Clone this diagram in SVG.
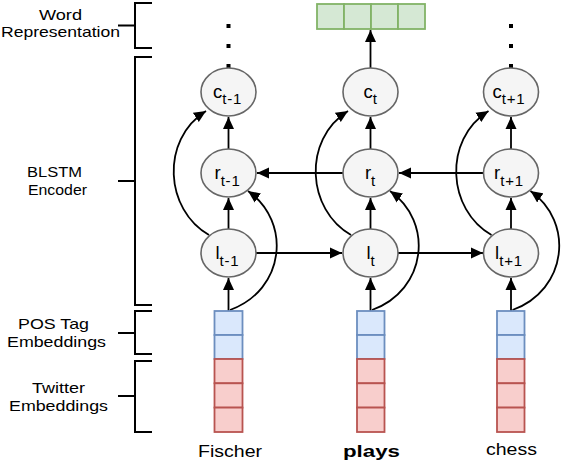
<svg xmlns="http://www.w3.org/2000/svg" width="564" height="460" viewBox="0 0 564 460">
<defs>
<marker id="ah" markerUnits="userSpaceOnUse" markerWidth="13" markerHeight="12" refX="12" refY="5.5" orient="auto" viewBox="0 0 13 11">
<path d="M0,0 L12,5.5 L0,11 z" fill="#000"/>
</marker>
<style>
.n ellipse{fill:#f5f5f5;stroke:#666;stroke-width:1.6}
.n text{font-family:"Liberation Sans",Arial,sans-serif;font-size:18.5px;fill:#000;text-anchor:middle}
.n tspan{font-size:15px;letter-spacing:0.8px}
.c path,.c line{fill:none;stroke:#000;stroke-width:1.8;marker-end:url(#ah)}
.br path{fill:none;stroke:#000;stroke-width:2}
.lab{font-family:"Liberation Sans",Arial,sans-serif;font-size:15px;fill:#000;text-anchor:middle}
.w{font-family:"Liberation Sans",Arial,sans-serif;font-size:17px;fill:#000;text-anchor:middle}
.blue{fill:#dae8fc;stroke:#6c8ebf;stroke-width:1.8}
.red{fill:#f8cecc;stroke:#b85450;stroke-width:1.8}
.green{fill:#d5e8d4;stroke:#82b366;stroke-width:1.8}
.dot{fill:#000}
</style>
</defs>
<rect width="564" height="460" fill="#fff"/>

<g id="brackets" class="br">
<path d="M152,3 H135 V48 H152 M118,25.5 H135"/>
<path d="M152,57 H135 V305 H152 M118,181 H135"/>
<path d="M152,311 H135 V354 H152 M118,333 H135"/>
<path d="M152,361 H135 V432 H152 M118,396 H135"/>
</g>
<g id="labels">
<text class="lab" x="60.5" y="20" textLength="43" lengthAdjust="spacingAndGlyphs">Word</text>
<text class="lab" x="60.5" y="37" textLength="119" lengthAdjust="spacingAndGlyphs">Representation</text>
<text class="lab" x="54.5" y="177" textLength="55" lengthAdjust="spacingAndGlyphs">BLSTM</text>
<text class="lab" x="57.5" y="194.5" textLength="59" lengthAdjust="spacingAndGlyphs">Encoder</text>
<text class="lab" x="53.5" y="329" textLength="71" lengthAdjust="spacingAndGlyphs">POS Tag</text>
<text class="lab" x="56.5" y="346.5" textLength="99" lengthAdjust="spacingAndGlyphs">Embeddings</text>
<text class="lab" x="58.5" y="393" textLength="53" lengthAdjust="spacingAndGlyphs">Twitter</text>
<text class="lab" x="58.5" y="410.5" textLength="99" lengthAdjust="spacingAndGlyphs">Embeddings</text>
</g>

<g id="word-representation">
<rect class="green" x="317" y="4" width="27" height="25"/>
<rect class="green" x="344" y="4" width="27" height="25"/>
<rect class="green" x="371" y="4" width="27" height="25"/>
<rect class="green" x="398" y="4" width="27" height="25"/>
</g>

<g id="dots">
<rect class="dot" x="226.5" y="24" width="4" height="4"/>
<rect class="dot" x="226.5" y="44" width="4" height="4"/>
<rect class="dot" x="226.5" y="64" width="4" height="4"/>
<rect class="dot" x="509" y="24" width="4" height="4"/>
<rect class="dot" x="509" y="44" width="4" height="4"/>
<rect class="dot" x="509" y="64" width="4" height="4"/>
</g>

<g id="connectors" class="c">
<line x1="228.5" y1="311" x2="228.5" y2="278"/>
<line x1="228.5" y1="229" x2="228.5" y2="198"/>
<line x1="228.5" y1="149" x2="228.5" y2="117"/>
<path d="M209,235 C165,210 160,140 206,111"/>
<path d="M230,310 C285,290 292,222 248,191"/>
<line x1="370.5" y1="311" x2="370.5" y2="278"/>
<line x1="370.5" y1="229" x2="370.5" y2="198"/>
<line x1="370.5" y1="149" x2="370.5" y2="117"/>
<line x1="370.5" y1="68" x2="370.5" y2="30"/>
<path d="M351,235 C307,210 302,140 348,111"/>
<path d="M372,310 C427,290 434,222 390,191"/>
<line x1="511" y1="311" x2="511" y2="278"/>
<line x1="511" y1="229" x2="511" y2="198"/>
<line x1="511" y1="149" x2="511" y2="117"/>
<path d="M491.5,235 C447.5,210 442.5,140 488.5,111"/>
<path d="M512.5,310 C567.5,290 574.5,222 530.5,191"/>
<line x1="256" y1="253" x2="342" y2="253"/>
<line x1="398" y1="253" x2="483" y2="253"/>
<line x1="484" y1="173" x2="399" y2="173"/>
<line x1="343" y1="173" x2="257" y2="173"/>
</g>

<g id="c1" class="n"><ellipse cx="228.5" cy="92" rx="27.5" ry="24"/><text x="227.5" y="98">c<tspan dy="6">t-1</tspan></text></g>
<g id="c2" class="n"><ellipse cx="370.5" cy="92" rx="27.5" ry="24"/><text x="370.5" y="98">c<tspan dy="6">t</tspan></text></g>
<g id="c3" class="n"><ellipse cx="511" cy="92" rx="27.5" ry="24"/><text x="509" y="98">c<tspan dy="6">t+1</tspan></text></g>
<g id="r1" class="n"><ellipse cx="228.5" cy="173" rx="27.5" ry="24"/><text x="227.5" y="179">r<tspan dy="6.5">t-1</tspan></text></g>
<g id="r2" class="n"><ellipse cx="370.5" cy="173" rx="27.5" ry="24"/><text x="370.5" y="179">r<tspan dy="6.5">t</tspan></text></g>
<g id="r3" class="n"><ellipse cx="511" cy="173" rx="27.5" ry="24"/><text x="509" y="179">r<tspan dy="6.5">t+1</tspan></text></g>
<g id="l1" class="n"><ellipse cx="228.5" cy="253" rx="27.5" ry="24"/><text x="227.5" y="259">l<tspan dy="7">t-1</tspan></text></g>
<g id="l2" class="n"><ellipse cx="370.5" cy="253" rx="27.5" ry="24"/><text x="371" y="259">l<tspan dy="7">t</tspan></text></g>
<g id="l3" class="n"><ellipse cx="511" cy="253" rx="27.5" ry="24"/><text x="509" y="259">l<tspan dy="7">t+1</tspan></text></g>

<g id="emb1">
<rect class="blue" x="214.5" y="311" width="28" height="24"/>
<rect class="blue" x="214.5" y="335" width="28" height="24"/>
<rect class="red" x="214.5" y="359" width="28" height="24.3"/>
<rect class="red" x="214.5" y="383.3" width="28" height="24.3"/>
<rect class="red" x="214.5" y="407.6" width="28" height="24.4"/>
</g>
<g id="emb2">
<rect class="blue" x="357" y="311" width="27.5" height="24"/>
<rect class="blue" x="357" y="335" width="27.5" height="24"/>
<rect class="red" x="357" y="359" width="27.5" height="24.3"/>
<rect class="red" x="357" y="383.3" width="27.5" height="24.3"/>
<rect class="red" x="357" y="407.6" width="27.5" height="24.4"/>
</g>
<g id="emb3">
<rect class="blue" x="497" y="311" width="27.5" height="24"/>
<rect class="blue" x="497" y="335" width="27.5" height="24"/>
<rect class="red" x="497" y="359" width="27.5" height="24.3"/>
<rect class="red" x="497" y="383.3" width="27.5" height="24.3"/>
<rect class="red" x="497" y="407.6" width="27.5" height="24.4"/>
</g>

<g id="words">
<text class="w" x="230" y="456.5" textLength="64" lengthAdjust="spacingAndGlyphs">Fischer</text>
<text class="w" x="371.5" y="456.5" font-weight="bold" textLength="57" lengthAdjust="spacingAndGlyphs">plays</text>
<text class="w" x="511.5" y="455" textLength="51" lengthAdjust="spacingAndGlyphs">chess</text>
</g>
</svg>
